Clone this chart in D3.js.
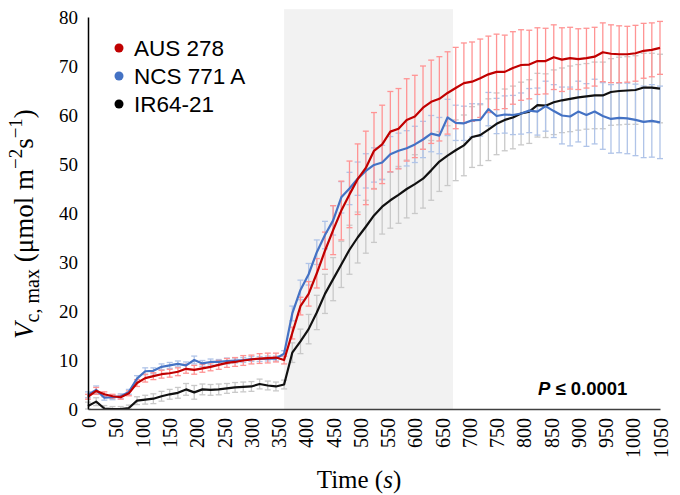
<!doctype html>
<html>
<head>
<meta charset="utf-8"/>
<title>Vc,max</title>
<script src="https://d3js.org/d3.v7.min.js"></script>
<style>
body { margin: 0; background: #fff; }
</style>
</head>
<body>
<script type="text/javascript">
// time points (s)
var times = [0, 15, 30, 45, 60, 75, 90, 105, 120, 135,
  150, 165, 180, 195, 210, 225, 240, 255, 270, 285,
  300, 315, 330, 345, 360, 375, 390, 405, 420, 435,
  450, 465, 480, 495, 510, 525, 540, 555, 570, 585,
  600, 615, 630, 645, 660, 675, 690, 705, 720, 735,
  750, 765, 780, 795, 810, 825, 840, 855, 870, 885,
  900, 915, 930, 945, 960, 975, 990, 1005, 1020, 1035,
  1050];

var aus278 = [2.5, 3.7, 3.0, 2.6, 2.4, 3.2, 5.3, 6.3, 6.7, 7.1,
  7.3, 7.6, 8.2, 8.0, 8.3, 8.6, 9.0, 9.4, 9.6, 9.9,
  10.1, 10.3, 10.4, 10.5, 10.0, 15.5, 21.0, 23.5, 27.7, 32.3,
  36.5, 40.5, 43.8, 46.9, 49.2, 52.7, 54.0, 56.6, 57.2, 59.0,
  59.7, 61.5, 62.7, 63.3, 64.5, 65.5, 66.5, 66.8, 67.5, 68.3,
  68.8, 68.8, 69.6, 70.2, 70.3, 71.0, 71.0, 71.8, 71.3, 71.6,
  71.4, 71.6, 71.9, 72.8, 72.5, 72.4, 72.4, 72.6, 73.1, 73.3,
  73.7];
var aus278Err = [0.5, 0.7, 0.5, 0.4, 0.4, 0.5, 0.7, 0.8, 0.7, 0.8,
  0.8, 0.8, 0.9, 0.9, 0.8, 0.8, 0.9, 0.9, 0.9, 1.0,
  0.9, 1.0, 1.0, 0.9, 0.8, 1.2, 1.8, 2.5, 3.0, 3.8,
  5.0, 6.0, 6.8, 7.2, 7.5, 7.8, 8.0, 8.2, 8.2, 8.4,
  8.4, 8.5, 8.5, 8.6, 8.4, 8.3, 8.2, 8.1, 8.0, 7.8,
  7.7, 7.5, 7.4, 7.2, 7.0, 6.8, 6.7, 6.6, 6.5, 6.3,
  6.2, 6.1, 6.0, 6.0, 5.9, 5.8, 5.7, 5.7, 5.6, 5.5,
  5.4];

var ncs771 = [2.9, 3.9, 2.3, 2.4, 2.6, 3.5, 6.2, 7.7, 7.8, 8.6,
  8.9, 9.2, 8.9, 10.0, 9.3, 9.6, 9.6, 9.8, 9.9, 10.0,
  10.2, 10.2, 10.3, 10.3, 11.3, 19.5, 24.3, 27.5, 32.0, 35.5,
  38.5, 43.2, 45.0, 47.0, 48.6, 49.8, 50.3, 52.0, 52.7, 53.2,
  54.0, 55.0, 56.2, 55.8, 59.5, 58.4, 58.3, 58.9, 59.0, 61.2,
  59.8, 60.1, 60.0, 60.3, 60.9, 60.7, 61.8, 60.8, 59.9, 59.7,
  60.7, 60.0, 60.7, 59.8, 59.2, 59.4, 59.3, 59.0, 58.6, 58.8,
  58.5];
var ncs771Err = [0.6, 0.8, 0.5, 0.5, 0.5, 0.5, 0.6, 0.7, 0.6, 0.6,
  0.6, 0.6, 0.7, 0.8, 0.6, 0.6, 0.5, 0.6, 0.5, 0.5,
  0.5, 0.5, 0.5, 0.5, 0.6, 1.5, 2.0, 2.2, 2.5, 2.8,
  3.0, 3.2, 3.3, 3.4, 3.5, 3.5, 3.5, 3.6, 3.6, 3.6,
  3.7, 3.7, 3.7, 3.7, 3.7, 3.6, 3.5, 3.4, 3.3, 3.4,
  3.6, 3.8, 4.0, 4.2, 4.5, 4.8, 5.1, 5.4, 5.8, 6.0,
  6.2, 6.4, 6.6, 6.8, 7.0, 7.1, 7.2, 7.3, 7.3, 7.4,
  7.4];

var ir64 = [0.6, 1.5, 0.1, 0, 0, 0.2, 1.7, 1.9, 2.1, 2.6,
  3.0, 3.3, 4.0, 3.4, 4.0, 3.9, 4.0, 4.2, 4.4, 4.5,
  4.6, 5.1, 4.8, 4.6, 5.0, 11.5, 13.8, 16.3, 19.7, 23.5,
  26.5, 29.5, 32.5, 35.0, 37.2, 39.5, 41.3, 42.6, 43.7, 44.9,
  45.9, 47.0, 48.7, 50.5, 51.7, 52.8, 53.8, 55.5, 55.9, 57.0,
  58.2, 59.0, 59.5, 60.3, 60.7, 62.0, 61.9, 62.6, 63.0, 63.3,
  63.6, 63.8, 64.0, 64.0, 64.7, 64.9, 65.0, 65.1, 65.6, 65.6,
  65.4];
var ir64Err = [0.8, 0.8, 0.6, 0.5, 0.5, 0.6, 0.8, 0.9, 1.0, 1.0,
  1.0, 1.1, 1.2, 1.4, 1.1, 1.1, 1.1, 1.0, 1.0, 1.0,
  1.0, 1.0, 0.9, 0.9, 0.9, 2.0, 2.5, 3.0, 3.5, 4.0,
  4.4, 4.7, 5.0, 5.2, 5.4, 5.5, 5.6, 5.7, 5.8, 5.9,
  6.0, 6.0, 6.1, 6.1, 6.1, 6.2, 6.2, 6.2, 6.2, 6.3,
  6.3, 6.3, 6.4, 6.4, 6.5, 6.5, 6.5, 6.6, 6.6, 6.7,
  6.7, 6.7, 6.8, 6.8, 6.8, 6.9, 6.9, 7.0, 7.0, 7.0,
  7.0];

var seriesNames = ["AUS 278", "NCS 771 A", "IR64-21"];
var xTicks = [0, 50, 100, 150, 200, 250, 300, 350, 400, 450, 500, 550,
  600, 650, 700, 750, 800, 850, 900, 950, 1000, 1050];
var yTicks = [0, 10, 20, 30, 40, 50, 60, 70, 80];
var lightPeriod = [360, 670];

var series = [
  {name: seriesNames[2], vals: ir64, err: ir64Err, line: "#111111", bar: "#c9c9c9"},
  {name: seriesNames[1], vals: ncs771, err: ncs771Err, line: "#4472c4", bar: "#b0c4e8"},
  {name: seriesNames[0], vals: aus278, err: aus278Err, line: "#c00000", bar: "#ff9494"}
];

var svg = d3.select("body").append("svg")
  .attr("width", 680)
  .attr("height", 495);

var x = d3.scaleLinear().domain([0, 1050]).range([88, 660]);
var y = d3.scaleLinear().domain([0, 80]).range([409, 17]);

// shaded light period
svg.append("rect")
  .attr("x", x(lightPeriod[0]))
  .attr("y", y(81.6))
  .attr("width", x(lightPeriod[1]) - x(lightPeriod[0]))
  .attr("height", y(0) - y(81.6))
  .attr("fill", "#f2f2f2");

// error bars
series.forEach(function(s) {
  var g = svg.append("g").attr("stroke", s.bar).attr("stroke-width", 1.3);
  times.forEach(function(t, i) {
    var cx = x(t), y1 = y(s.vals[i] + s.err[i]), y0 = y(Math.max(0, s.vals[i] - s.err[i]));
    g.append("line").attr("x1", cx).attr("x2", cx).attr("y1", y1).attr("y2", y0);
    g.append("line").attr("x1", cx - 3).attr("x2", cx + 3).attr("y1", y1).attr("y2", y1);
    g.append("line").attr("x1", cx - 3).attr("x2", cx + 3).attr("y1", y0).attr("y2", y0);
  });
});

// lines
var line = d3.line()
  .x(function(d, i) { return x(times[i]); })
  .y(function(d) { return y(d); });

series.forEach(function(s) {
  svg.append("path")
    .datum(s.vals)
    .attr("d", line)
    .attr("fill", "none")
    .attr("stroke", s.line)
    .attr("stroke-width", 2.2)
    .attr("stroke-linejoin", "round");
});

// axes
var yAxis = svg.append("g")
  .attr("transform", "translate(" + x(0) + ",0)")
  .call(d3.axisLeft(y).tickValues(yTicks).tickSize(0).tickPadding(10));
yAxis.select(".domain").attr("stroke", "#000").attr("stroke-width", 1.5);
yAxis.selectAll("text")
  .style("font-family", "'Liberation Serif', 'Times New Roman', serif")
  .style("font-size", "19px")
  .attr("fill", "#000");

var xAxis = svg.append("g")
  .attr("transform", "translate(0," + y(0) + ")")
  .call(d3.axisBottom(x).tickValues(xTicks).tickSize(0).tickFormat(d3.format("d")));
xAxis.select(".domain").attr("stroke", "#404040").attr("stroke-width", 1.5);
xAxis.selectAll("text")
  .attr("transform", "rotate(-90)")
  .attr("x", -9)
  .attr("y", 0)
  .attr("dy", "0.35em")
  .style("text-anchor", "end")
  .style("font-family", "'Liberation Serif', 'Times New Roman', serif")
  .style("font-size", "20px")
  .attr("fill", "#000");

// axis titles
var yTitle = svg.append("text")
  .attr("transform", "translate(33,224) rotate(-90)")
  .attr("text-anchor", "middle")
  .style("font-family", "'Liberation Serif', 'Times New Roman', serif")
  .style("font-size", "27px");
yTitle.append("tspan").style("font-style", "italic").text("V");
yTitle.append("tspan").attr("dy", 6).style("font-style", "normal").style("font-size", "20px").text("c, max");
yTitle.append("tspan").attr("dy", -6).text(" (μmol m");
yTitle.append("tspan").attr("dy", -11).style("font-size", "19px").text("−2");
yTitle.append("tspan").attr("dy", 11).text("s");
yTitle.append("tspan").attr("dy", -11).style("font-size", "19px").text("−1");
yTitle.append("tspan").attr("dy", 11).text(")");

var xTitle = svg.append("text")
  .attr("x", 359)
  .attr("y", 488)
  .attr("text-anchor", "middle")
  .style("font-family", "'Liberation Serif', 'Times New Roman', serif")
  .style("font-size", "25px");
xTitle.append("tspan").text("Time (");
xTitle.append("tspan").style("font-style", "italic").text("s");
xTitle.append("tspan").text(")");

// legend
var legendColors = ["#c00000", "#4472c4", "#000000"];
seriesNames.forEach(function(n, i) {
  svg.append("circle")
    .attr("cx", 119)
    .attr("cy", 48 + i * 28)
    .attr("r", 4.5)
    .attr("fill", legendColors[i]);
  svg.append("text")
    .attr("x", 134)
    .attr("y", 48 + i * 28 + 7.5)
    .style("font-family", "'Liberation Sans', Arial, sans-serif")
    .style("font-size", "22.5px")
    .attr("fill", "#000")
    .text(n);
});

// significance
var pText = svg.append("text")
  .attr("x", 538)
  .attr("y", 395)
  .style("font-family", "'Liberation Sans', Arial, sans-serif")
  .style("font-size", "18.5px")
  .style("font-weight", "bold");
pText.append("tspan").style("font-style", "italic").text("P");
pText.append("tspan").text(" ≤ 0.0001");
</script>
</body>
</html>
